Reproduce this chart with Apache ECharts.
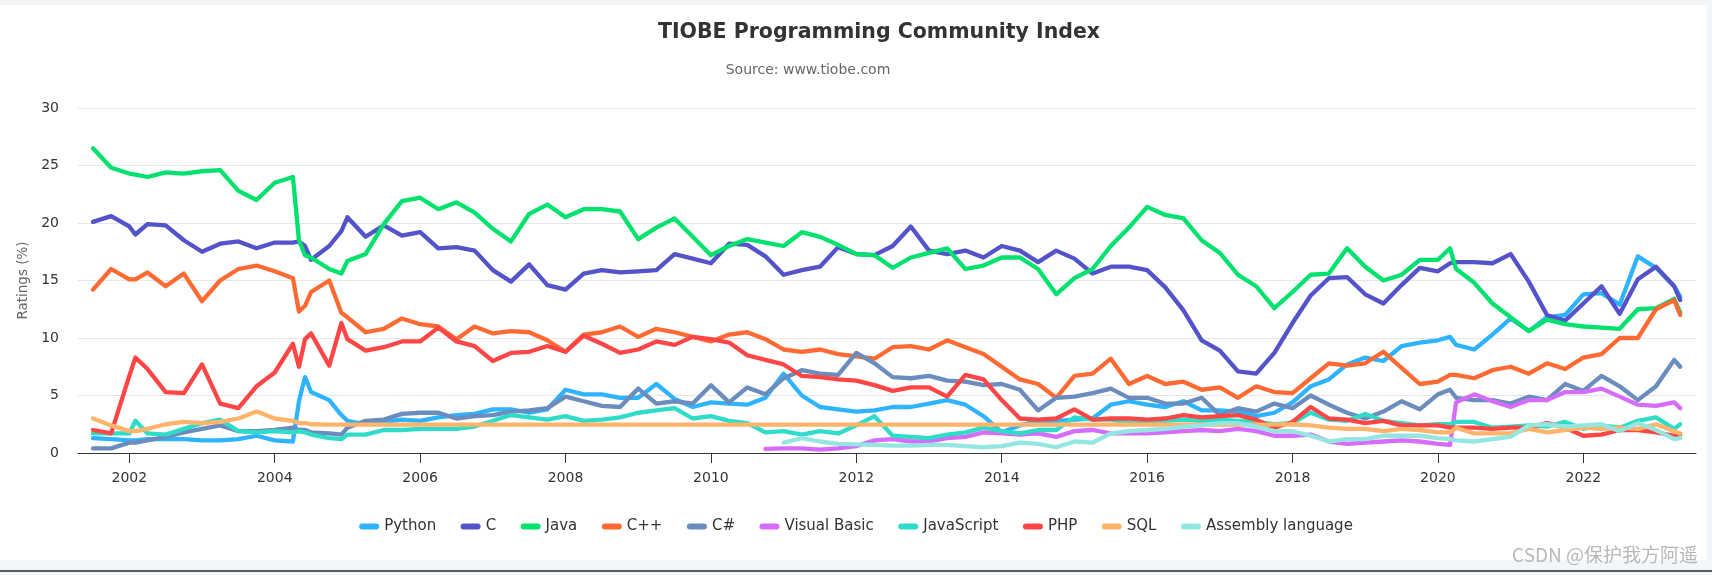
<!DOCTYPE html>
<html>
<head>
<meta charset="utf-8">
<script src="https://cdn.jsdelivr.net/npm/echarts@6/dist/echarts.min.js"></script>
<style>
html,body{margin:0;padding:0;width:1712px;height:575px;overflow:hidden;background:#fff;}
.strip{position:absolute;}
#chart{position:absolute;left:0;top:0;width:1712px;height:575px;}
</style>
</head>
<body>
<div class="strip" style="left:0;top:0;width:1712px;height:5px;background:#f4f5f7;"></div>
<div class="strip" style="left:1707px;top:0;width:5px;height:575px;background:#f2f5f9;"></div>
<div class="strip" style="left:0;top:560px;width:1712px;height:15px;background:#f2f5f9;"></div>
<div class="strip" style="left:0;top:570px;width:1712px;height:2px;background:#5a5a5a;"></div>
<div id="chart"></div>
<script>
// ---- data (readings, mostly quarterly, extra points at sharp changes) ----
const dates = ['2001-07','2001-10',
'2002-01','2002-02','2002-04','2002-07','2002-10','2003-01','2003-04','2003-07','2003-10',
'2004-01','2004-04','2004-05','2004-06','2004-07',
'2004-10','2004-12','2005-01','2005-04','2005-07','2005-10',
'2006-01','2006-04','2006-07','2006-10','2007-01','2007-04','2007-07','2007-10',
'2008-01','2008-04','2008-07','2008-10','2009-01','2009-04','2009-07','2009-10',
'2010-01','2010-04','2010-07','2010-10',
'2011-01','2011-04','2011-07','2011-10','2012-01','2012-04','2012-07','2012-10',
'2013-01','2013-04','2013-07','2013-10','2014-01',
'2014-04','2014-07','2014-10','2015-01','2015-04','2015-07','2015-10',
'2016-01','2016-04','2016-07','2016-10','2017-01','2017-04',
'2017-07','2017-10','2018-01','2018-04','2018-07','2018-10','2019-01','2019-04','2019-07','2019-10',
'2020-01','2020-03','2020-04','2020-07',
'2020-10','2021-01','2021-04','2021-07','2021-10',
'2022-01','2022-04','2022-07','2022-10','2023-01','2023-04','2023-05'];

const names = ['Python','C','Java','C++','C#','Visual Basic','JavaScript','PHP','SQL','Assembly language'];
const tickYears = [2002,2004,2006,2008,2010,2012,2014,2016,2018,2020,2022];

const python = [1.3,1.2,1.1,1.1,1.2,1.2,1.2,1.1,1.1,1.2,1.5,1.1,1.0,4.5,6.6,5.3,
4.6,3.3,2.8,2.5,2.7,2.9,2.8,3.1,3.3,3.4,3.8,3.8,3.5,3.8,
5.5,5.1,5.1,4.8,4.8,6.0,4.7,4.0,4.4,4.3,4.2,4.8,
6.9,5.0,4.0,3.8,3.6,3.7,4.0,4.0,4.3,4.6,4.2,3.2,1.8,
2.4,2.8,2.8,2.9,3.0,4.2,4.5,4.2,4.0,4.5,3.7,3.7,3.6,
3.2,3.5,4.4,5.8,6.4,7.7,8.3,8.0,9.3,9.6,9.8,10.1,9.4,9.0,
10.3,11.7,10.6,11.8,12.0,13.8,13.9,12.9,17.1,16.1,14.5,13.6];

const c = [20.1,20.6,19.7,19.0,19.9,19.8,18.5,17.5,18.2,18.4,17.8,18.3,18.3,18.4,18.0,16.8,
18.0,19.3,20.5,18.8,19.8,18.9,19.2,17.8,17.9,17.6,15.9,14.9,16.4,14.6,
14.2,15.6,15.9,15.7,15.8,15.9,17.3,16.9,16.5,18.2,18.1,17.1,
15.5,15.9,16.2,17.9,17.3,17.2,18.0,19.7,17.6,17.3,17.6,17.0,18.0,
17.6,16.6,17.6,16.9,15.6,16.2,16.2,15.9,14.4,12.4,9.8,8.9,7.1,
6.9,8.7,11.3,13.7,15.2,15.3,13.8,13.0,14.6,16.1,15.8,16.5,16.6,16.6,
16.5,17.3,14.9,12.0,11.5,13.0,14.5,12.1,15.1,16.2,14.5,13.3];

const java = [26.5,24.8,24.3,24.2,24.0,24.4,24.3,24.5,24.6,22.8,22.0,23.5,24.0,18.5,17.2,17.0,
16.0,15.6,16.7,17.3,19.9,21.9,22.2,21.2,21.8,20.9,19.5,18.4,20.8,21.6,
20.5,21.2,21.2,21.0,18.6,19.6,20.4,18.8,17.2,18.0,18.6,18.3,
18.0,19.2,18.8,18.1,17.3,17.2,16.1,17.0,17.4,17.8,16.0,16.3,17.0,
17.0,16.0,13.8,15.2,16.0,18.0,19.6,21.4,20.7,20.4,18.5,17.4,15.5,
14.5,12.6,14.0,15.5,15.6,17.8,16.2,15.0,15.5,16.8,16.8,17.8,16.0,14.8,
13.0,11.8,10.6,11.6,11.2,11.0,10.9,10.8,12.5,12.6,13.4,12.2];

const cpp = [14.2,16.0,15.1,15.1,15.7,14.5,15.6,13.2,15.0,16.0,16.3,15.8,15.2,12.3,12.8,14.0,
15.0,12.2,11.8,10.5,10.8,11.7,11.2,11.0,9.9,11.0,10.4,10.6,10.5,9.8,
8.8,10.3,10.5,11.0,10.1,10.8,10.5,10.1,9.7,10.3,10.5,9.9,
9.0,8.8,9.0,8.6,8.4,8.2,9.2,9.3,9.0,9.8,9.2,8.6,7.5,
6.4,6.0,4.8,6.7,6.9,8.2,6.0,6.7,6.0,6.2,5.5,5.7,4.8,
5.8,5.3,5.2,6.5,7.8,7.6,7.8,8.8,7.4,6.0,6.2,6.8,6.8,6.5,
7.2,7.5,6.9,7.8,7.3,8.3,8.6,10.0,10.0,12.5,13.3,12.0];

const csharp = [0.4,0.4,0.9,0.9,1.1,1.4,1.8,2.1,2.4,1.9,1.9,2.0,2.2,2.0,2.0,1.8,
1.7,1.6,2.2,2.8,2.9,3.4,3.5,3.5,3.0,3.2,3.3,3.6,3.7,3.9,
4.9,4.5,4.1,4.0,5.6,4.3,4.5,4.3,5.9,4.4,5.7,5.1,
6.5,7.2,6.9,6.8,8.7,7.8,6.6,6.5,6.7,6.3,6.2,5.9,6.0,
5.5,3.7,4.8,4.9,5.2,5.6,4.8,4.8,4.3,4.3,4.8,3.3,3.9,
3.6,4.3,3.9,5.0,4.2,3.5,3.0,3.6,4.5,3.8,5.1,5.5,4.8,4.6,
4.6,4.3,4.9,4.6,6.0,5.4,6.7,5.8,4.6,5.8,8.1,7.5];

const visualBasic = [null,null,null,null,null,null,null,null,null,null,null,null,null,null,null,null,
null,null,null,null,null,null,null,null,null,null,null,null,null,null,
null,null,null,null,null,null,null,null,null,null,null,0.35,
0.4,0.4,0.3,0.4,0.6,1.1,1.2,1.0,1.0,1.3,1.4,1.8,1.7,
1.6,1.7,1.4,1.9,2.0,1.7,1.7,1.7,1.8,1.9,2.0,1.9,2.1,
1.9,1.5,1.5,1.6,1.0,0.8,0.9,1.0,1.1,1.0,0.8,0.7,4.4,5.1,
4.5,4.0,4.6,4.6,5.3,5.3,5.6,4.9,4.2,4.1,4.4,3.9];

const javascript = [1.7,1.7,1.7,2.8,1.7,1.6,2.1,2.6,2.9,1.9,1.8,1.9,1.8,1.9,1.8,1.6,
1.3,1.2,1.6,1.6,2.0,2.0,2.1,2.1,2.1,2.3,2.8,3.3,3.1,2.9,
3.2,2.8,2.9,3.1,3.5,3.7,3.9,3.0,3.2,2.8,2.6,1.8,
1.9,1.6,1.9,1.7,2.4,3.2,1.5,1.4,1.3,1.6,1.8,2.2,1.9,
1.7,2.0,2.0,3.1,2.9,2.9,2.6,2.7,2.8,2.9,2.8,2.9,2.8,
2.7,2.5,2.6,3.5,2.9,2.8,3.4,2.8,2.6,2.4,2.5,2.5,2.7,2.7,
2.2,2.3,2.4,2.3,2.7,2.1,2.4,2.2,2.8,3.1,2.1,2.5];

const php = [2.0,1.7,6.7,8.3,7.3,5.3,5.2,7.7,4.3,3.9,5.8,7.0,9.5,7.5,9.9,10.4,
7.6,11.3,9.9,8.9,9.2,9.7,9.7,10.9,9.7,9.3,8.0,8.7,8.8,9.3,
8.8,10.2,9.5,8.7,9.0,9.7,9.4,10.1,9.9,9.6,8.5,8.1,
7.7,6.7,6.6,6.4,6.3,5.9,5.4,5.7,5.7,4.9,6.8,6.4,4.6,
3.0,2.9,3.0,3.8,2.9,3.0,3.0,2.9,3.0,3.3,3.1,3.2,3.3,
2.9,2.2,2.7,4.0,3.0,2.9,2.6,2.8,2.4,2.4,2.4,2.2,2.2,2.2,
2.1,2.2,2.2,2.6,2.2,1.5,1.6,2.0,2.0,1.8,1.5,1.6];

const sql = [3.0,2.4,1.9,1.9,2.1,2.5,2.7,2.6,2.7,3.0,3.6,3.0,2.8,2.6,2.6,2.5,
2.46,2.46,2.46,2.46,2.46,2.46,2.46,2.46,2.46,2.46,2.46,2.46,2.46,2.46,
2.46,2.46,2.46,2.46,2.46,2.46,2.46,2.46,2.46,2.46,2.46,2.46,
2.46,2.46,2.46,2.46,2.46,2.46,2.46,2.46,2.46,2.46,2.46,2.46,2.46,
2.46,2.46,2.46,2.46,2.46,2.46,2.46,2.46,2.46,2.46,2.46,2.46,2.46,
2.46,2.46,2.5,2.4,2.2,2.1,2.1,1.9,2.1,2.0,1.8,1.8,2.2,1.7,
1.7,1.7,2.1,1.8,2.0,2.2,2.1,2.2,2.1,2.5,1.9,1.7];

const assembly = [null,null,null,null,null,null,null,null,null,null,null,null,null,null,null,null,
null,null,null,null,null,null,null,null,null,null,null,null,null,null,
null,null,null,null,null,null,null,null,null,null,null,null,
0.9,1.3,1.0,0.8,0.75,0.7,0.65,0.65,0.7,0.7,0.6,0.5,0.6,
0.9,0.8,0.5,1.0,0.9,1.7,1.9,2.0,2.1,2.3,2.4,2.6,2.6,
2.3,1.9,1.9,1.5,1.0,1.2,1.2,1.5,1.5,1.5,1.3,1.2,1.1,1.0,
1.2,1.4,2.4,2.5,2.3,2.4,2.5,1.9,2.6,2.0,1.2,1.3];

const values = [python, c, java, cpp, csharp, visualBasic, javascript, php, sql, assembly];
const colors = ['#2eb4ff','#5453c9','#00e16e','#ff6a33','#6b8dbd','#d66cfb','#2fdcc8','#ff4646','#ffb46c','#94e7e1'];

// 'YYYY-MM' -> decimal year
function toYear(s) {
  const p = s.split('-');
  return Number(p[0]) + (Number(p[1]) - 1) / 12;
}
const xs = dates.map(toYear);

const FONT = 'DejaVu Sans';
const chart = echarts.init(document.getElementById('chart'), null, {renderer: 'canvas'});

const series = names.map((n, k) => ({
  type: 'line',
  name: n,
  data: xs.map((x, i) => [x, values[k][i]]),
  showSymbol: false,
  symbol: 'none',
  color: colors[k],
  lineStyle: { width: 4.3, join: 'round', cap: 'round' },
  emphasis: { disabled: true },
  connectNulls: false
}));

chart.setOption({
  animation: false,
  textStyle: { fontFamily: FONT },
  title: [
    { text: 'TIOBE Programming Community Index', left: 879, top: 22, textAlign: 'center', padding: 0,
      textStyle: { fontSize: 20.5, fontWeight: 'bold', color: '#333', fontFamily: FONT } },
    { text: 'Source: www.tiobe.com', left: 808, top: 63, textAlign: 'center', padding: 0,
      textStyle: { fontSize: 14, fontWeight: 'normal', color: '#666', fontFamily: FONT } }
  ],
  legend: {
    data: names,
    left: 'center',
    top: 514,
    icon: 'path://M3,0 L17,0 A3,3 0 0 1 17,6 L3,6 A3,3 0 0 1 3,0 Z',
    itemWidth: 20,
    itemHeight: 6,
    itemGap: 24.5,
    textStyle: { fontSize: 15, color: '#333', fontFamily: FONT }
  },
  grid: { left: 78, right: 16, top: 108, bottom: 122, containLabel: false },
  xAxis: {
    type: 'value',
    min: 2001.294,
    max: 2023.55,
    axisLine: { show: true, onZero: false, lineStyle: { color: '#333', width: 1 } },
    axisTick: { show: true, length: 10, lineStyle: { color: '#333' }, customValues: tickYears },
    axisLabel: { customValues: tickYears, margin: 18, fontSize: 14, color: '#333', fontFamily: FONT,
      formatter: v => String(Math.round(v)) },
    splitLine: { show: false }
  },
  yAxis: {
    type: 'value',
    min: 0, max: 30, interval: 5,
    name: 'Ratings (%)',
    nameLocation: 'middle',
    nameGap: 45,
    nameTextStyle: { fontSize: 13.5, color: '#666', fontFamily: FONT },
    axisLine: { show: false },
    axisTick: { show: false },
    axisLabel: { margin: 19, fontSize: 14, color: '#333', fontFamily: FONT },
    splitLine: { lineStyle: { color: '#e6e6e6', width: 1 } }
  },
  graphic: [{
    type: 'text', right: 14, top: 545,
    style: { text: 'CSDN @保护我方阿遥', font: '19px "Noto Sans CJK SC"', fill: '#b8b8b8' }
  }],
  series: series
});
</script>
</body>
</html>
